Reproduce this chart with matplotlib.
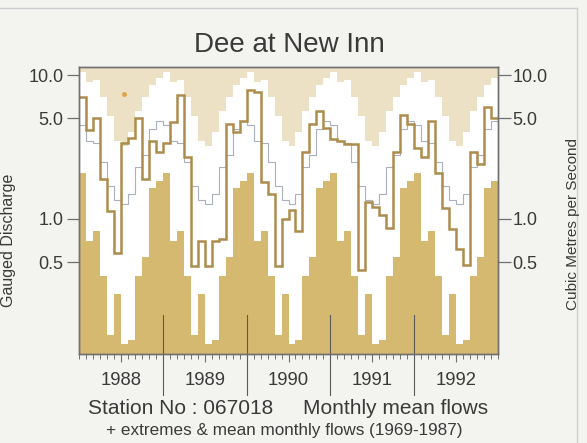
import numpy as np
import matplotlib
matplotlib.use("Agg")
import matplotlib.pyplot as plt
import matplotlib.transforms as mtransforms
from matplotlib.lines import Line2D
from matplotlib.ticker import NullLocator, FixedLocator

plt.rcParams['font.family'] = ['Liberation Sans', 'DejaVu Sans']

years = [1988, 1989, 1990, 1991, 1992]

# long term monthly statistics 1969-1987, Jan..Dec (m3/s)
lt_max = [10.5, 9.0, 9.2, 7.0, 5.2, 3.5, 3.2, 4.0, 5.6, 7.0, 8.5, 9.6]
lt_min = [2.1, 0.70, 0.82, 0.40, 0.155, 0.30, 0.135, 0.145, 0.40, 0.54, 1.65, 1.85]
lt_mean = [4.5, 3.5, 3.4, 2.5, 1.7, 1.35, 1.28, 1.5, 2.3, 2.8, 4.2, 4.8]

# monthly mean flows
flow_1988 = [7.1, 4.15, 5.0, 1.9, 1.13, 0.58, 3.35, 3.63, 5.0, 1.9, 3.5, 2.9]
flow_1989 = [3.4, 4.7, 7.3, 2.7, 0.47, 0.70, 0.47, 0.70, 0.73, 4.6, 4.0, 4.8]
flow_1990 = [7.9, 7.7, 1.82, 1.5, 0.47, 1.0, 1.15, 0.82, 2.9, 4.6, 5.6, 4.3]
flow_1991 = [3.6, 3.5, 3.3, 3.3, 0.44, 1.32, 1.22, 1.07, 0.86, 2.9, 5.3, 4.6]
flow_1992 = [3.1, 2.7, 4.8, 2.1, 1.2, 0.85, 0.62, 0.48, 2.9, 2.4, 6.0, 5.0]

# odd point marked in the top band (month index, value)
dot_month = [6.5]
dot_value = [7.4]

ytick_vals = [0.5, 1.0, 5.0, 10.0]
ytick_labels = ["0.5", "1.0", "5.0", "10.0"]

flows = np.concatenate([flow_1988, flow_1989, flow_1990, flow_1991, flow_1992])
nyears = len(years)
maxs = np.tile(lt_max, nyears)
mins = np.tile(lt_min, nyears)
means = np.tile(lt_mean, nyears)
edges = np.arange(len(flows) + 1)

ylo, yhi = 0.115, 11.4

light = "#ece1c4"
dark = "#d6b970"
textc = "#3a3a3a"
framec = "#707070"

fig = plt.figure(figsize=(5.87, 4.43), dpi=100)
fig.patch.set_facecolor("#f3f3f0")
ax = fig.add_axes([79 / 587, 1 - 354 / 443, 419 / 587, 287 / 443])
ax.set_facecolor("white")
ax.set_yscale("log")

# extremes envelope
ax.stairs(np.full(len(maxs), yhi * 1.2), edges, baseline=maxs, fill=True,
          color=light, lw=0)
ax.stairs(mins, edges, baseline=0.05, fill=True, color=dark, lw=0)
# long term mean and monthly flows
ax.stairs(means, edges, baseline=None, color="#a9b0bf", lw=0.8)
ax.stairs(flows, edges, baseline=None, color="#ad8c4c", lw=1.8)
ax.plot(dot_month, dot_value, "o", color="#e3a245", ms=3.5, mec="none")

ax.set_xlim(0, len(flows))
ax.set_ylim(ylo, yhi)

ax.set_yticks(ytick_vals)
ax.set_yticklabels(ytick_labels)
ax.yaxis.set_minor_locator(NullLocator())
ax.tick_params(axis="y", length=8.3, width=0.9, color=framec, pad=3,
               labelsize=13, labelcolor=textc)

ax.xaxis.set_major_locator(FixedLocator([6 + 12 * i for i in range(nyears)]))
ax.set_xticklabels([str(y) for y in years])
ax.xaxis.set_minor_locator(FixedLocator(edges))
ax.tick_params(axis="x", which="major", length=6, width=0.8, color=framec,
               pad=7, labelsize=13.3, labelcolor=textc)
ax.tick_params(axis="x", which="minor", length=3.5, width=0.7, color=framec)

ax2 = ax.twinx()
ax2.set_yscale("log")
ax2.set_ylim(ylo, yhi)
ax2.set_yticks(ytick_vals)
ax2.set_yticklabels(ytick_labels)
ax2.yaxis.set_minor_locator(NullLocator())
ax2.tick_params(axis="y", length=9.3, width=0.9, color=framec, pad=1,
                labelsize=13, labelcolor=textc)

for a in (ax, ax2):
    for s in a.spines.values():
        s.set_color(framec)
        s.set_linewidth(1.0)

# year separators crossing the bottom axis
trans = mtransforms.blended_transform_factory(ax.transData, ax.transAxes)
for i in range(1, nyears):
    ax.plot([12 * i, 12 * i], [-0.143, 0.136], transform=trans, color="#5a5a5a",
            lw=0.8, clip_on=False, zorder=5)

fig.text(289.5 / 587, 1 - 45 / 443, "Dee at New Inn", ha="center", va="center",
         fontsize=20, color=textc)
fig.text(9 / 587, 1 - 240 / 443, "Gauged Discharge", rotation=90, ha="center",
         va="center", fontsize=11.5, color=textc)
fig.text(573 / 587, 1 - 224 / 443, "Cubic Metres per Second", rotation=90,
         ha="center", va="center", fontsize=11, color=textc)
fig.text(88 / 587, 1 - 408 / 443, "Station No : 067018", ha="left", va="center",
         fontsize=15, color=textc)
fig.text(303 / 587, 1 - 408 / 443, "Monthly mean flows", ha="left", va="center",
         fontsize=15, color=textc)
fig.text(284 / 587, 1 - 430 / 443, "+ extremes & mean monthly flows (1969-1987)",
         ha="center", va="center", fontsize=12.3, color=textc)

# page border of the scanned figure
fig.add_artist(Line2D([0, 577 / 587], [1 - 8 / 443, 1 - 8 / 443], color="#cfcfcf", lw=1))
fig.add_artist(Line2D([577 / 587, 577 / 587], [0, 1 - 8 / 443], color="#cfcfcf", lw=1))

fig.savefig("out.png", dpi=100, facecolor=fig.get_facecolor())
